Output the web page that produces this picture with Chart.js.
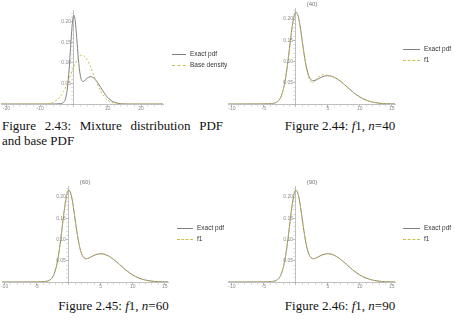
<!DOCTYPE html>
<html><head><meta charset="utf-8">
<script src="https://cdn.jsdelivr.net/npm/chart.js@4/dist/chart.umd.min.js"></script>
<style>
html,body{margin:0;padding:0;background:#fff}
body{width:455px;height:325px;position:relative;overflow:hidden}
.pn{position:absolute}
.pn canvas{display:block}
.ttl{position:absolute;font:6px 'Liberation Sans',Arial,sans-serif;color:#777;transform:translate(-50%,-50%);white-space:nowrap}
.lg{position:absolute;font:6.5px 'Liberation Sans',Arial,sans-serif;color:#333;white-space:nowrap;line-height:8px}
.lg .sw{position:absolute;top:4px;height:0}
.lg .tx{position:absolute;top:0}
.cap{position:absolute;font:13px 'Liberation Serif','Times New Roman',serif;color:#111;line-height:15px;white-space:nowrap}
</style></head>
<body>
<div class="pn" style="left:0;top:0"><canvas id="c1" width="172" height="118"></canvas></div>
<div class="pn" style="left:225px;top:0"><canvas id="c2" width="180" height="118"></canvas></div>
<div class="pn" style="left:0;top:178px"><canvas id="c3" width="180" height="118"></canvas></div>
<div class="pn" style="left:225px;top:178px"><canvas id="c4" width="180" height="118"></canvas></div>

<div class="ttl" style="left:312px;top:4px">{40}</div>
<div class="ttl" style="left:85px;top:182px">{60}</div>
<div class="ttl" style="left:312px;top:182px">{90}</div>

<div id="legs"></div>

<div class="cap" style="left:2px;top:118px;width:221px;text-align:justify;text-align-last:justify">Figure 2.43: Mixture distribution PDF</div>
<div class="cap" style="left:2px;top:133px">and base PDF</div>
<div class="cap" style="left:225px;top:118px;width:230px;text-align:center">Figure 2.44: <i>f</i>1, <i>n</i>=40</div>
<div class="cap" style="left:0;top:298px;width:227px;text-align:center">Figure 2.45: <i>f</i>1, <i>n</i>=60</div>
<div class="cap" style="left:225px;top:298px;width:230px;text-align:center">Figure 2.46: <i>f</i>1, <i>n</i>=90</div>

<script>
// ---- data ----
const xGrid = [-22,-10,-6,-5,-4,-3.5,-3,-2.5,-2,-1.75,-1.5,-1.25,-1,-0.75,-0.5,-0.25,0,0.25,0.5,0.75,1,1.25,1.5,1.75,2,2.25,2.5,2.75,3,3.5,4,4.5,5,5.5,6,6.5,7,7.5,8,8.5,9,9.5,10,10.5,11,11.5,12,13,14,15,16,17,27];
const exactPdf = [0,0,0.0001,0.0003,0.0008,0.0016,0.0041,0.0117,0.0314,0.0484,0.0711,0.0989,0.1300,0.1612,0.1884,0.2077,0.2161,0.2123,0.1976,0.1749,0.1483,0.1218,0.0984,0.0801,0.0673,0.0596,0.0557,0.0547,0.0555,0.0591,0.0630,0.0656,0.0665,0.0656,0.0629,0.0587,0.0532,0.0470,0.0403,0.0337,0.0273,0.0216,0.0166,0.0124,0.0090,0.0064,0.0044,0.0019,0.0007,0.0003,0.0001,0,0];
const f1n40 = [0,0,0.0002,0.0004,0.0012,0.0022,0.0048,0.0122,0.0310,0.0478,0.0703,0.0982,0.1292,0.1603,0.1870,0.2062,0.2145,0.2110,0.1968,0.1750,0.1490,0.1228,0.0985,0.0782,0.0636,0.0540,0.0497,0.0510,0.0554,0.0632,0.0678,0.0690,0.0678,0.0655,0.0625,0.0586,0.0535,0.0475,0.0408,0.0340,0.0274,0.0213,0.0162,0.0122,0.0092,0.0068,0.0048,0.0020,0.0006,0.0001,0,0,0];
const f1n60 = [0,0,0.0001,0.0003,0.0009,0.0017,0.0042,0.0118,0.0313,0.0483,0.0709,0.0987,0.1298,0.1610,0.1882,0.2074,0.2158,0.2121,0.1975,0.1749,0.1484,0.1219,0.0984,0.0799,0.0670,0.0593,0.0555,0.0548,0.0557,0.0593,0.0631,0.0656,0.0664,0.0655,0.0628,0.0587,0.0532,0.0471,0.0404,0.0337,0.0273,0.0216,0.0165,0.0124,0.0090,0.0064,0.0045,0.0019,0.0007,0.0002,0.0001,0,0];
const f1n90 = [0,0,0.0001,0.0003,0.0008,0.0016,0.0041,0.0117,0.0314,0.0484,0.0711,0.0989,0.1300,0.1611,0.1883,0.2076,0.2160,0.2123,0.1976,0.1749,0.1483,0.1218,0.0984,0.0800,0.0672,0.0595,0.0556,0.0547,0.0555,0.0591,0.0630,0.0656,0.0665,0.0656,0.0629,0.0587,0.0532,0.0470,0.0403,0.0337,0.0273,0.0216,0.0166,0.0124,0.0090,0.0064,0.0044,0.0019,0.0007,0.0003,0.0001,0,0];
const xBase = [-22,-12,-10,-9,-8,-7,-6,-5,-4,-3,-2,-1,0,1,2,2.5,3,4,5,6,7,8,9,10,11,12,13,14,15,17,27];
const baseDensity = [0,0,0.0001,0.0003,0.0009,0.0022,0.0048,0.0098,0.0182,0.0310,0.0484,0.0690,0.0901,0.1076,0.1176,0.1189,0.1176,0.1076,0.0901,0.0690,0.0484,0.0310,0.0182,0.0098,0.0048,0.0022,0.0009,0.0003,0.0001,0,0];
const seriesNames = ['Exact pdf','Base density','f1'];
const panelTitles = ['{40}','{60}','{90}'];

// ---- styles ----
const GRAY = '#808080';
const DASH = 'rgb(206,190,78)';
const FONT = "'Liberation Sans', Arial, sans-serif";

function pts(xs, ys){ return xs.map((x,i)=>({x:x, y:ys[i]})); }

function makeChart(id, cfg){
  const near = (v, s) => Math.abs(v/s - Math.round(v/s)) < 1e-6;
  new Chart(document.getElementById(id), {
    type:'line',
    data:{datasets:[
      {label:seriesNames[cfg.secondName], data:pts(cfg.x2, cfg.y2), borderColor:DASH, borderWidth:1, borderDash:[2,2], order:0},
      {label:seriesNames[0], data:pts(xGrid, exactPdf), borderColor:GRAY, borderWidth:1, order:1}
    ]},
    options:{
      responsive:false, animation:false, events:[],
      layout:{padding:cfg.pad},
      plugins:{legend:{display:false}, tooltip:{enabled:false}, title:{display:false}},
      elements:{point:{radius:0}, line:{cubicInterpolationMode:'monotone', fill:false}},
      scales:{
        x:{type:'linear', min:cfg.xmin, max:cfg.xmax, position:{y:0},
          ticks:{stepSize:cfg.xminor, autoSkip:false, includeBounds:false, maxRotation:0, minRotation:0, padding:0,
            font:{size:5, family:FONT}, color:'#8a8a8a',
            callback:(v)=> (near(v, cfg.xmajor) && Math.abs(v)>1e-9) ? String(Math.round(v)) : ''},
          grid:{drawOnChartArea:false, tickLength:2,
            tickColor:(c)=> (c.tick && near(c.tick.value, cfg.xmajor)) ? '#9a9a9a' : '#cfcfcf', tickWidth:0.7},
          border:{display:true, color:'#b0b0b0', width:0.8}},
        y:{type:'linear', min:0, max:cfg.ymax, position:{x:0},
          ticks:{stepSize:0.01, autoSkip:false, includeBounds:false, padding:1,
            font:{size:5, family:FONT}, color:'#8a8a8a',
            callback:(v)=> (near(v,0.05) && v>1e-9) ? (v.toFixed(2) + '\u00a0\u00a0') : ''},
          grid:{drawOnChartArea:false, tickLength:2,
            tickColor:(c)=> (c.tick && near(c.tick.value,0.05)) ? '#9a9a9a' : '#cfcfcf', tickWidth:0.7},
          border:{display:true, color:'#b0b0b0', width:0.8}}
      }
    }
  });
}

makeChart('c1', {x2:xBase, y2:baseDensity, secondName:1, xmin:-21.6, xmax:26.5, xmajor:10, xminor:2, ymax:0.2287, pad:{left:1,right:9,top:10,bottom:14}});
makeChart('c2', {x2:xGrid, y2:f1n40, secondName:2, xmin:-10.6, xmax:15.5, xmajor:5, xminor:1, ymax:0.2259, pad:{left:3,right:10,top:8,bottom:14}});
makeChart('c3', {x2:xGrid, y2:f1n60, secondName:2, xmin:-10.4, xmax:15.5, xmajor:5, xminor:1, ymax:0.2259, pad:{left:2,right:12,top:8,bottom:14}});
makeChart('c4', {x2:xGrid, y2:f1n90, secondName:2, xmin:-10.6, xmax:15.5, xmajor:5, xminor:1, ymax:0.2259, pad:{left:3,right:10,top:8,bottom:14}});

// ---- legends (HTML text) ----
const legendSpecs = [
  {left:172, top:50, sw:14, second:1},
  {left:403, top:45, sw:17, second:2},
  {left:177, top:224, sw:16, second:2},
  {left:403, top:224, sw:17, second:2}
];
const legs = document.getElementById('legs');
legendSpecs.forEach(s=>{
  [0, s.second].forEach((k, r)=>{
    const d = document.createElement('div');
    d.className = 'lg';
    d.style.left = s.left + 'px';
    d.style.top = (s.top + r*11) + 'px';
    const sw = document.createElement('div');
    sw.className = 'sw';
    sw.style.left = '0px';
    sw.style.width = s.sw + 'px';
    sw.style.borderTop = k===0 ? ('1px solid ' + GRAY) : ('1px dashed ' + DASH);
    const tx = document.createElement('div');
    tx.className = 'tx';
    tx.style.left = (s.sw + 4) + 'px';
    tx.textContent = seriesNames[k];
    d.appendChild(sw); d.appendChild(tx);
    legs.appendChild(d);
  });
});
</script>
</body></html>
